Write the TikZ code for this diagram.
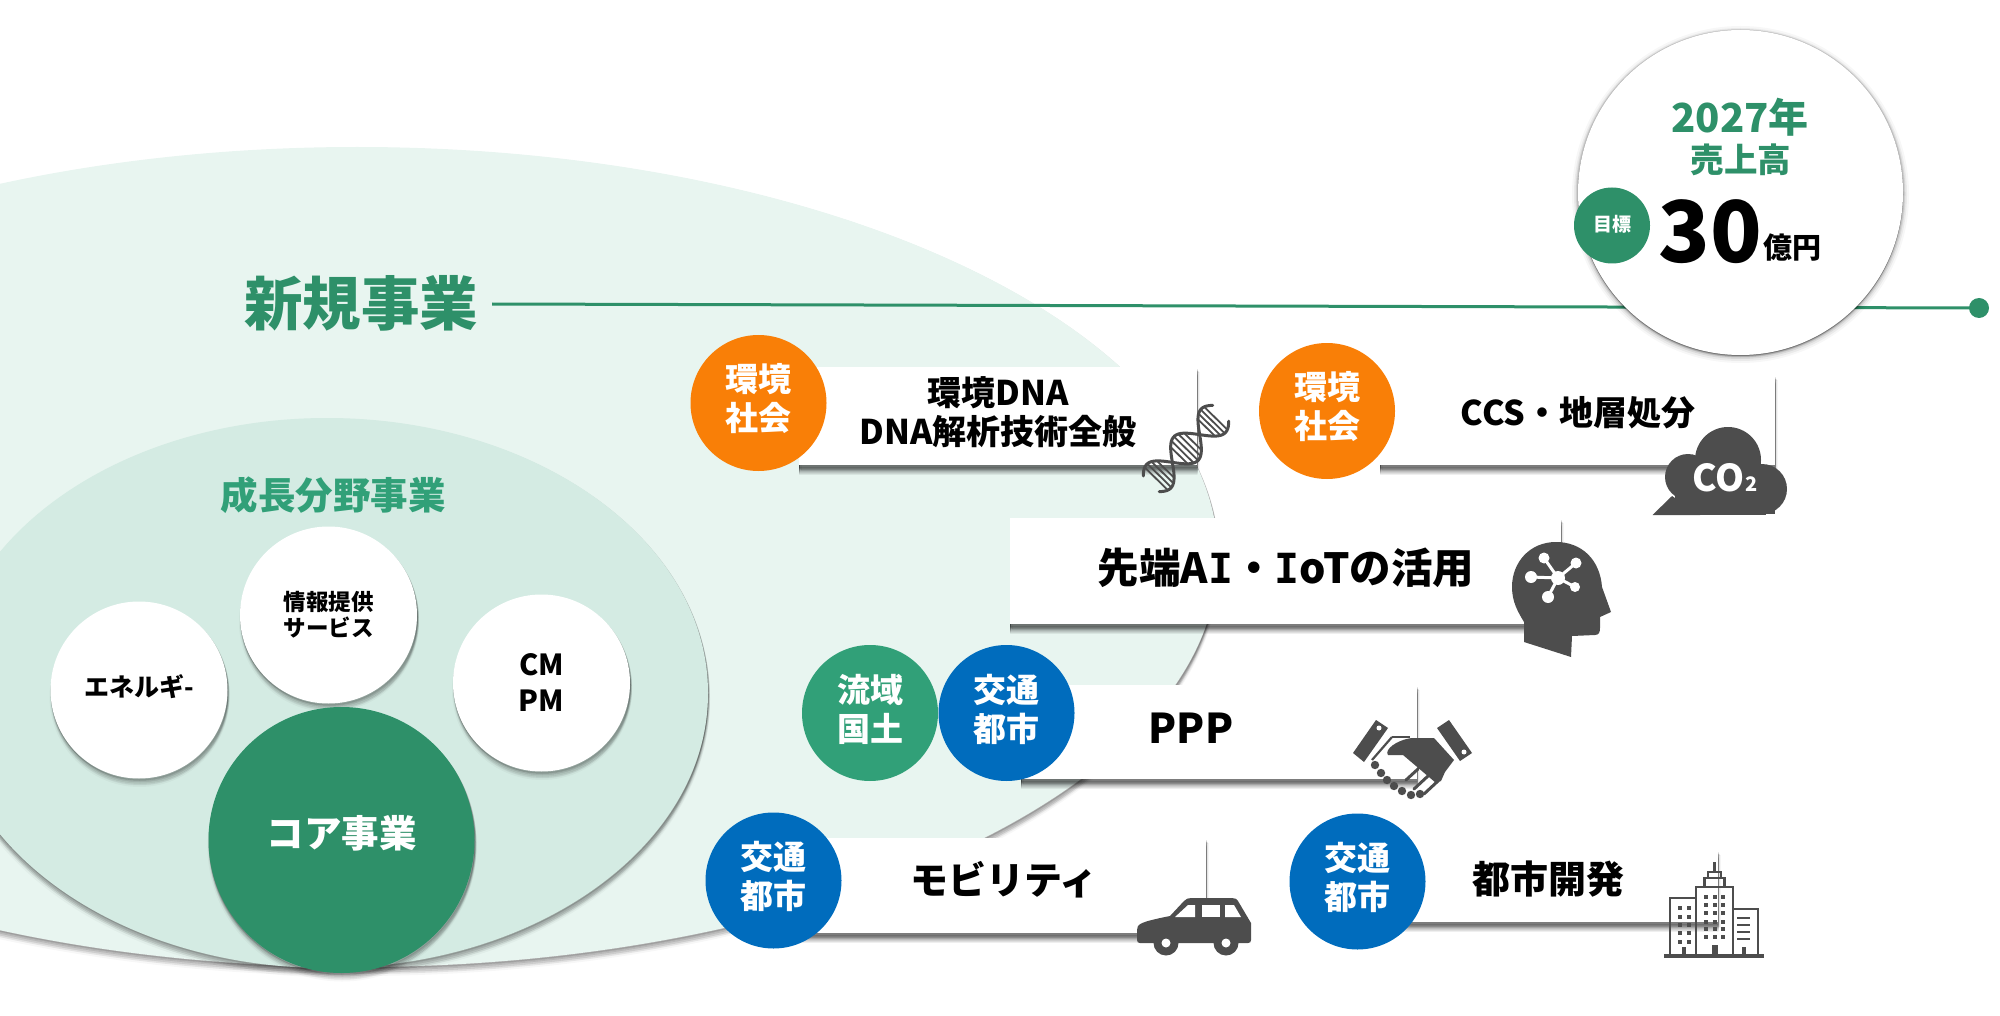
\documentclass[tikz,border=0pt]{standalone}
\usepackage{fontspec}
\setmainfont{Noto Sans CJK JP}
\newfontfamily\serifI{DejaVu Sans Mono}
\usetikzlibrary{shapes.geometric}
\definecolor{pale}{HTML}{E8F5F0}
\definecolor{mint}{HTML}{D4EBE3}
\definecolor{deep}{HTML}{2E9069}
\definecolor{leaf}{HTML}{31A078}
\definecolor{amber}{HTML}{F97F07}
\definecolor{cobalt}{HTML}{006CBD}
\definecolor{icon}{HTML}{4D4D4D}
\tikzset{
  softlayer/.style n args={4}{preaction={draw=black,fill=black,opacity=#4,line width=#3pt,transform canvas={shift={(#1pt,-#2pt)}}}},
  boxshadow/.style={softlayer={0}{9.5}{0.1}{.03},softlayer={0}{8.5}{0.1}{.05},softlayer={0}{7.5}{0.1}{.06},softlayer={0}{6.5}{0.1}{.07},softlayer={0}{5.5}{0.1}{.08},softlayer={0}{4.5}{0.1}{.09},softlayer={0}{3.5}{0.1}{.1},softlayer={0}{2.5}{0.1}{.1},softlayer={2}{5}{0.1}{.04},softlayer={1}{4}{0.1}{.07}},
  ballshadow/.style={softlayer={0.5}{7}{3}{.03},softlayer={1}{5.5}{2}{.05},softlayer={1}{4}{2}{.07},softlayer={1}{2.5}{1.5}{.09},softlayer={0.5}{1.5}{1}{.1}},
  softshadow/.style={softlayer={0}{7}{4}{.03},softlayer={0.5}{5.5}{3}{.05},softlayer={0.5}{4}{2.5}{.07},softlayer={0.5}{2.5}{2}{.09},softlayer={0.5}{1.2}{1}{.12}},
  goalshadow/.style={softlayer={0}{2}{12}{.03},softlayer={0}{2}{8}{.05},softlayer={0}{1.5}{5}{.08},softlayer={0}{1}{3}{.1},softlayer={0}{0.5}{1}{.14}},
  tag/.style={circle,inner sep=0pt,minimum size=136pt},
  tagtext/.style={inner sep=0pt,align=center,text=white,font=\fontsize{33}{39}\selectfont\bfseries},
  panel/.style={rectangle,fill=white,inner sep=0pt,boxshadow},
  label/.style={inner sep=0pt,align=center,text=black,font=\fontsize{34}{39}\selectfont\bfseries},
  iconfill/.style={fill=icon,draw=none},
}
\begin{document}
\begin{tikzpicture}[x=1pt,y=-1pt]
\useasboundingbox (0,0) rectangle (2000,1016);
\clip (0,0) rectangle (2000,1016);
% nested fields
\node[ellipse,inner sep=0pt,minimum width=1722pt,minimum height=820pt,fill=pale,softshadow] (outer) at (357,557) {};
\node[ellipse,inner sep=0pt,minimum width=762pt,minimum height=550pt,fill=mint,softshadow] (inner) at (327,693) {};
\node[circle,inner sep=0pt,minimum size=177pt,fill=white,ballshadow] (ene) at (139,690) {};
\node[inner sep=0pt,font=\fontsize{25}{30}\selectfont\bfseries] (enetext) at (139,687) {エネルギ-};
\node[circle,inner sep=0pt,minimum size=177pt,fill=white,ballshadow,align=center,font=\fontsize{22.5}{26}\selectfont\bfseries] (info) at (328.5,615) {情報提供\\サービス};
\node[circle,inner sep=0pt,minimum size=177pt,fill=white,ballshadow,align=center,font=\fontsize{29}{36}\selectfont\bfseries] (cm) at (541.5,683) {CM\\PM};
\node[circle,inner sep=0pt,minimum size=266pt,fill=deep,ballshadow] (core) at (341.5,840) {};
\node[inner sep=0pt,text=white,font=\fontsize{37.5}{44}\selectfont\bfseries] (coretext) at (341.5,833) {コア事業};
\node[inner sep=0pt,text=leaf,font=\fontsize{37.5}{44}\selectfont\bfseries] (grow) at (333,495) {成長分野事業};
% timeline
\node[inner sep=0pt,text=deep,font=\fontsize{58.5}{66}\selectfont\bfseries] (newbiz) at (361,303) {新規事業};
\node[circle,inner sep=0pt,minimum size=20pt,fill=deep] (dot) at (1979,308) {};
\coordinate (lineStart) at (492,304);
\draw[deep,line width=3pt] (lineStart) -- (dot.center);
% sales goal
\node[circle,inner sep=0pt,minimum size=325pt,fill=white,goalshadow] (goal) at (1740.5,192.5) {};
\node[inner sep=0pt,text=deep,font=\fontsize{40}{46}\selectfont\bfseries] (year) at (1740,117) {2027年};
\node[inner sep=0pt,text=deep,font=\fontsize{33.5}{38}\selectfont\bfseries] (sales) at (1741,160) {売上高};
\node[circle,inner sep=0pt,minimum size=76pt,fill=deep] (target) at (1612,225.5) {};
\node[inner sep=0pt,text=white,font=\fontsize{19}{22}\selectfont\bfseries] (targettext) at (1612,224.5) {目標};
\node[inner sep=0pt,font=\fontsize{85}{90}\selectfont\bfseries] (thirty) at (1710,232) {30};
\node[inner sep=0pt,font=\fontsize{29}{32}\selectfont\bfseries] (oku) at (1792,248) {億円};
% panels
\node[panel,minimum width=398pt,minimum height=98pt] (p1) at (998,416) {};
\node[panel,minimum width=395pt,minimum height=90pt] (p2) at (1577.5,420) {};
\node[panel,minimum width=551pt,minimum height=106pt] (p3) at (1285.5,571) {};
\node[panel,minimum width=396pt,minimum height=94pt] (p4) at (1219,732) {};
\node[panel,minimum width=406pt,minimum height=95pt] (p5) at (1003,885.5) {};
\node[panel,minimum width=318pt,minimum height=72pt] (p6) at (1559,886) {};
% tags
\node[tag,fill=amber] (t1) at (758.5,403) {};
\node[tag,fill=amber] (t2) at (1327,411) {};
\node[tag,fill=leaf] (t3) at (870,713) {};
\node[tag,fill=cobalt] (t4) at (1006.5,713) {};
\node[tag,fill=cobalt] (t5) at (773.5,880.5) {};
\node[tag,fill=cobalt] (t6) at (1357.5,881.5) {};
\node[tagtext] (t1x) at (758.5,399) {環境\\社会};
\node[tagtext] (t2x) at (1327,407) {環境\\社会};
\node[tagtext] (t3x) at (870,709) {流域\\国土};
\node[tagtext] (t4x) at (1006.5,709) {交通\\都市};
\node[tagtext] (t5x) at (773.5,876.5) {交通\\都市};
\node[tagtext] (t6x) at (1357.5,877.5) {交通\\都市};
% panel labels
\node[label] (l1) at (998,412) {環境DNA\\DNA解析技術全般};
\node[label] (l2) at (1578,413) {CCS・地層処分};
\node[label,font=\fontsize{41.5}{46}\selectfont\bfseries] (l3) at (1286,568) {先端A{\serifI I}・{\serifI I}oTの活用};
\node[label,font=\fontsize{41}{48}\selectfont\bfseries] (l4) at (1191,728) {PPP};
\node[label,font=\fontsize{38}{44}\selectfont\bfseries] (l5) at (1004,880) {モビリティ};
\node[label,font=\fontsize{38}{44}\selectfont\bfseries] (l6) at (1548,879) {都市開発};
% DNA icon
\begin{scope}[icon,line cap=round]
  \foreach \ph in {0,180}
    \draw[line width=3pt,domain=-0.06:1.06,samples=50,smooth,variable=\t]
      plot ({1155+62*\t+0.71*17*sin(409*(\t-0.28)+\ph)},{480-63*\t+0.70*17*sin(409*(\t-0.28)+\ph)});
  \foreach \t in {0.02,0.07,0.12,0.17,0.39,0.445,0.5,0.555,0.61,0.83,0.88,0.93,0.98}
    \draw[line width=1.8pt]
      ({1155+62*\t+0.71*17*sin(409*(\t-0.28))},{480-63*\t+0.70*17*sin(409*(\t-0.28))}) --
      ({1155+62*\t-0.71*17*sin(409*(\t-0.28))},{480-63*\t-0.70*17*sin(409*(\t-0.28))});
\end{scope}
% cloud icon
\fill[iconfill] (1652.5,515) -- (1672,496) -- (1700,515) -- cycle;
\fill[iconfill] (1688,477) circle (23);
\fill[iconfill] (1728,460) circle (33);
\fill[iconfill] (1762,489) circle (25);
\fill[iconfill] (1675,480) rectangle (1762,515);
\fill[iconfill] (1690,500) rectangle (1766,515);
\fill[iconfill] (1762,491) rectangle (1775,514);
\node[inner sep=0pt,text=white,font=\fontsize{37}{44}\selectfont\bfseries] (co) at (1725,478) {CO{\fontsize{20}{20}\selectfont 2}};
% head icon
\fill[iconfill] (1524,642) -- (1571,657) -- (1572,636) -- (1595,635)
  .. controls (1599,635) and (1600,632) .. (1600,628) -- (1600,617) -- (1611,612) -- (1602,587)
  .. controls (1600,560) and (1582,542) .. (1556,542)
  .. controls (1530,542) and (1512,562) .. (1512,587)
  .. controls (1512,602) and (1518,612) .. (1524,622) -- cycle;
\foreach \nx/\ny/\nr in {1544/558/5.5,1576/563/5.5,1531/577/6,1575/587/5,1548/597/6}{
  \draw[white,line width=3pt] (1558,578) -- (\nx,\ny);
  \fill[white] (\nx,\ny) circle (\nr);
}
\fill[white] (1558,578) circle (7);
% handshake icon
\begin{scope}[icon]
  \fill (1376,720) -- (1388,728) -- (1364,762) -- (1353,753) -- cycle;
  \fill (1449,720) -- (1437,728) -- (1460,761) -- (1472,753) -- cycle;
  \fill[white] (1379,728) circle (2.5);
  \fill[white] (1464,752) circle (2.5);
  \fill (1388,755) .. controls (1384,750) and (1396,740) .. (1412,738) -- (1434,738) -- (1454,760)
    -- (1445,772) -- (1441,781) -- (1436,783) -- (1403,755) -- cycle;
  \draw[line width=2.2pt] (1392,737) -- (1410,737);
  \draw[line width=2.2pt] (1392,737) -- (1372,760);
  \draw[line width=3pt,line cap=round] (1438,781) -- (1424,794) (1428,776) -- (1414,789) (1418,769) -- (1406,780);
  \foreach \kx/\ky in {1375/765,1381/773,1387/780,1394/786,1402/791,1411/795,1420/794}
    \fill (\kx,\ky) circle (4.2);
\end{scope}
% car icon
\fill[iconfill] (1137,930) .. controls (1137,924) and (1140,922) .. (1170,916) -- (1184,901)
  .. controls (1186,899) and (1188,898) .. (1191,898) -- (1232,898)
  .. controls (1235,898) and (1237,899) .. (1238,901) -- (1251,923) -- (1251,940)
  .. controls (1251,942) and (1250,943) .. (1248,943) -- (1140,943) .. controls (1138,943) and (1137,942) .. (1137,940) -- cycle;
\fill[white] (1175,917) -- (1188,905) -- (1195,905) -- (1195,917) -- cycle;
\fill[white] (1201.5,905) rectangle (1220,917);
\fill[white] (1225,905) -- (1234,905) -- (1241,917) -- (1225,917) -- cycle;
\foreach \wx in {1166,1226}{
  \fill[iconfill] (\wx,943) circle (12.5);
  \fill[white] (\wx,943) circle (4.5);
}
% city icon
\begin{scope}[icon,line width=2.5pt]
  \draw (1670,955) -- (1670,898) -- (1696,898) -- (1696,955);
  \draw (1696,955) -- (1696,887) -- (1733,887) -- (1733,955);
  \draw (1733,909) -- (1758,909) -- (1758,955);
  \draw (1704.5,887) -- (1704.5,878) -- (1724.5,878) -- (1724.5,887);
  \draw (1708,878) -- (1708,872) -- (1721,872) -- (1721,878);
  \draw (1714.5,872) -- (1714.5,862);
  \draw[line width=4pt] (1664,955.5) -- (1764,955.5);
  \foreach \wy in {908,917,925,933,942}
    \foreach \wx in {1680,1689}
      \fill (\wx-2,\wy-2) rectangle +(4,4);
  \foreach \wy in {897,905,913,922,929,937}
    \foreach \wx in {1706,1714.5,1723}
      \fill (\wx-2,\wy-2) rectangle +(4,4);
  \foreach \wy in {918,925,932,939}
    \draw[line width=1.7pt] (1737,\wy) -- (1750,\wy);
  \fill (1682,947) rectangle (1686,955);
  \fill (1711.5,945) rectangle (1717.5,955);
  \fill (1742,947) rectangle (1746,955);
\end{scope}
\end{tikzpicture}
\end{document}
